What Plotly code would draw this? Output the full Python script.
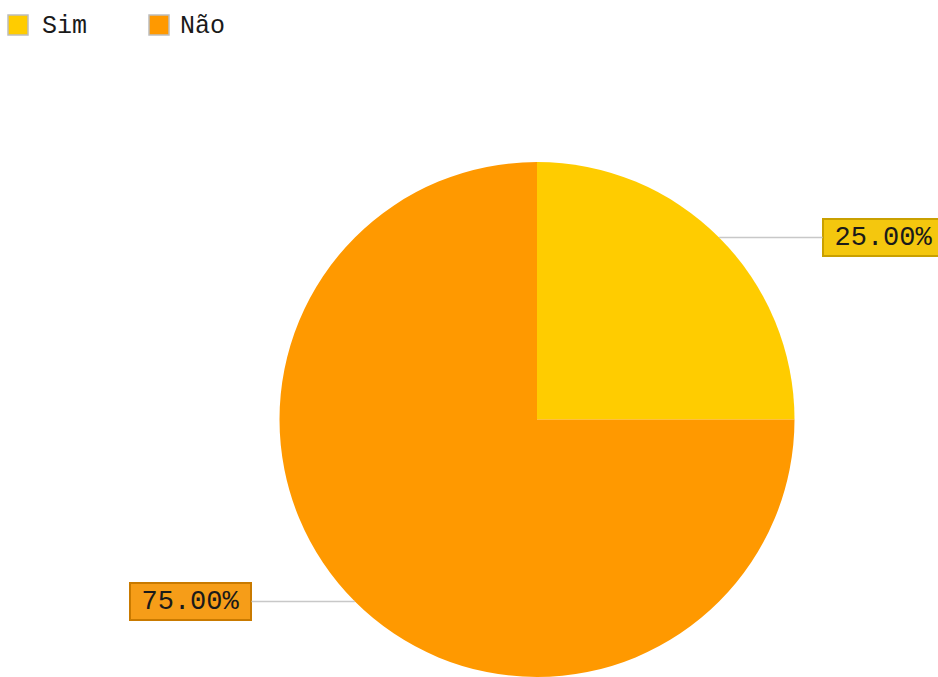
import math
import plotly.graph_objects as go

# Survey answers
categories = ["Sim", "Não"]
values = [25, 75]
slice_colors = ["#FFCC00", "#FF9900"]
box_fills = ["#F4C70E", "#F69D18"]
box_borders = ["#C9A000", "#C97A00"]

W, H = 938, 677
FONT = "Liberation Mono, DejaVu Sans Mono, monospace"

# Pie geometry in pixels (top of pie at y=162, centred at x=537)
TOP = 162
R = (H - TOP) / 2
CX = 537
CY = TOP + R

fig = go.Figure(
    go.Pie(
        labels=categories,
        values=values,
        marker=dict(colors=slice_colors, line=dict(width=0)),
        sort=False,
        direction="clockwise",
        rotation=0,
        textinfo="none",
        showlegend=False,
        domain=dict(x=[(CX - R) / W, (CX + R) / W], y=[0, (H - TOP) / H]),
    )
)

# Percentage call-outs with horizontal leader lines
total = sum(values)
cum = 0
annotations = []
for cat, v, fill, border in zip(categories, values, box_fills, box_borders):
    theta = 2 * math.pi * (cum + v / 2) / total
    cum += v
    px = CX + R * math.sin(theta)
    py = CY - R * math.cos(theta)
    side = 1 if math.sin(theta) >= 0 else -1
    annotations.append(
        dict(
            x=px / W, y=1 - py / H, xref="paper", yref="paper",
            text=f"{100 * v / total:.2f}%",
            showarrow=True, arrowhead=0, arrowwidth=1.5, arrowcolor="#C8C8C8",
            standoff=0, startstandoff=0,
            ax=side * 164, ay=0,
            font=dict(family=FONT, size=27, color="#1A1A1A"),
            bgcolor=fill, bordercolor=border, borderwidth=2, borderpad=2,
            width=115, height=31, align="center", valign="middle",
        )
    )

# Legend: swatch + label for each category
shapes = []
swatch_x = [8, 149]
label_x = [40, 178]
for cat, col, sx, tx in zip(categories, slice_colors, swatch_x, label_x):
    shapes.append(
        dict(
            type="rect", xref="paper", yref="paper",
            x0=sx / W, x1=(sx + 20) / W, y0=1 - 35 / H, y1=1 - 15 / H,
            fillcolor=col, line=dict(color="#BDBDBD", width=1.5),
        )
    )
    annotations.append(
        dict(
            x=tx / W, y=1 - 26 / H, xref="paper", yref="paper",
            xanchor="left", yanchor="middle", showarrow=False,
            text=cat, font=dict(family=FONT, size=25, color="#1A1A1A"),
        )
    )

fig.update_layout(
    width=W, height=H,
    margin=dict(l=0, r=0, t=0, b=0),
    paper_bgcolor="white", plot_bgcolor="white",
    annotations=annotations, shapes=shapes,
    showlegend=False,
)

fig.write_html("out.html")
